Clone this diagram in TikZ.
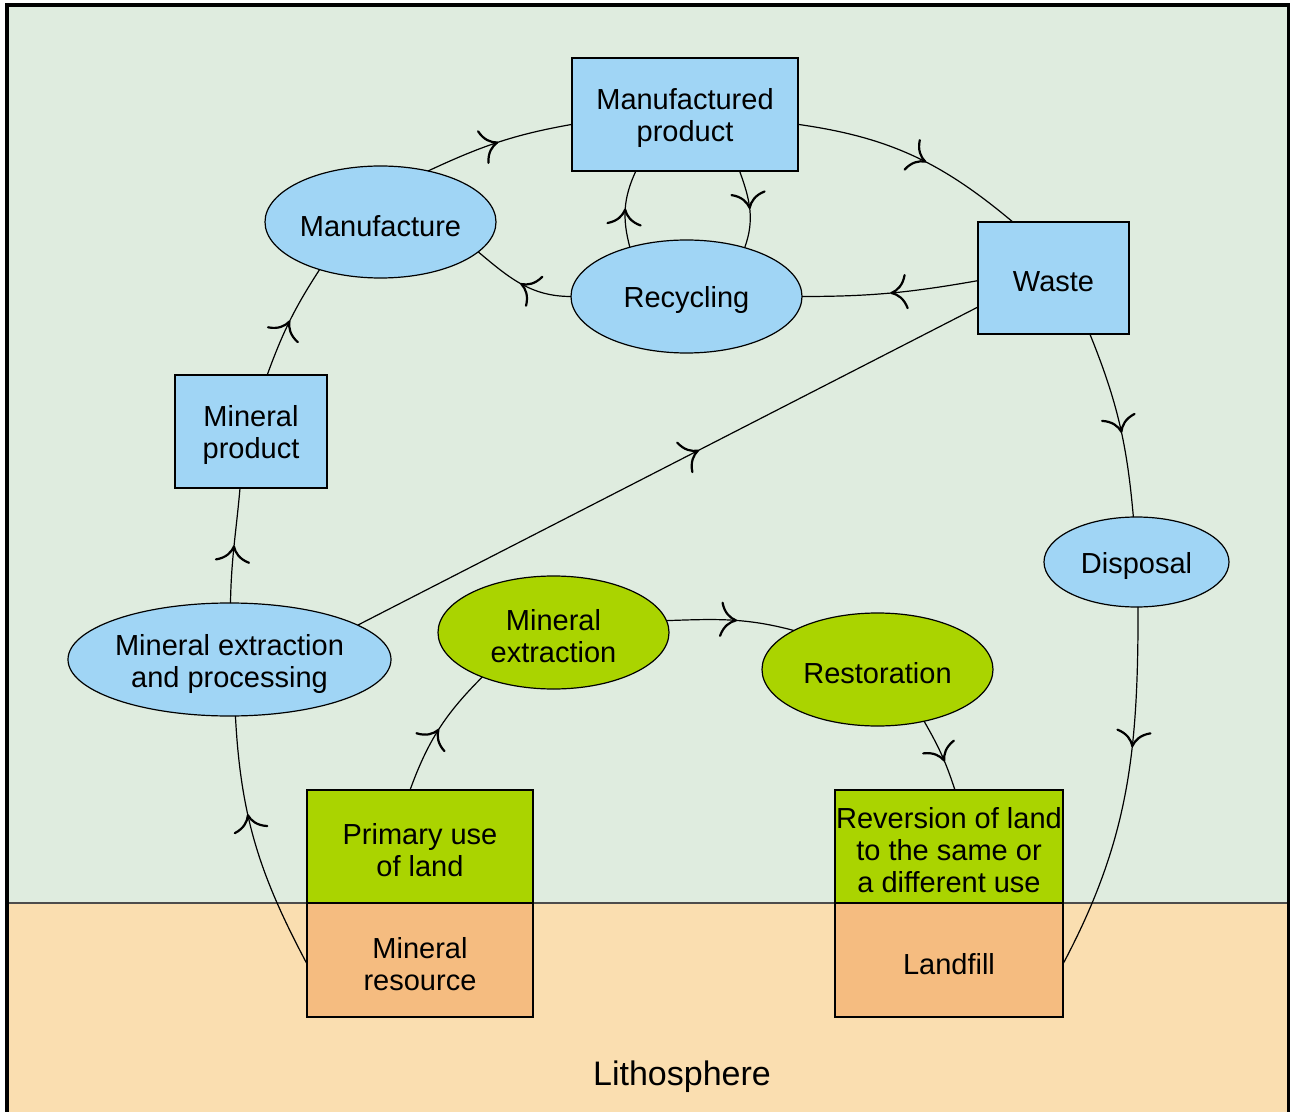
\documentclass[tikz,border=0pt]{standalone}
\usepackage{fontspec}
\setmainfont{Liberation Sans}
\usetikzlibrary{shapes.geometric,arrows.meta,decorations.markings}
\definecolor{bggreen}{HTML}{DFECDF}
\definecolor{bgtan}{HTML}{FADEB0}
\definecolor{skyb}{HTML}{A0D5F5}
\definecolor{leaf}{HTML}{AAD400}
\definecolor{ochre}{HTML}{F5BC80}
\tikzset{
  lbl/.style={align=center,font=\fontsize{14.5}{16}\selectfont,inner sep=0pt,yshift=-2pt},
  box/.style={draw=black,line width=0.6pt,inner sep=0pt,outer sep=0pt},
  rbox/.style={box,rectangle,fill=skyb},
  gbox/.style={box,rectangle,fill=leaf},
  obox/.style={box,rectangle,fill=ochre},
  bell/.style={box,ellipse,fill=skyb},
  gell/.style={box,ellipse,fill=leaf},
  flow/.style={draw,line width=0.6pt,postaction={decorate},
    decoration={markings,mark=at position #1 with {\arrow[line width=1.1pt]{Computer Modern Rightarrow[scale=2.1]}}}},
  flow/.default=0.5
}
\begin{document}
\begin{tikzpicture}[x=0.5pt,y=-0.5pt]
\useasboundingbox (0,0) rectangle (1290,1112);
% backgrounds
\fill[bggreen] (7,5) rectangle (1289,903);
\fill[bgtan] (7,903) rectangle (1289,1112);
\draw[line width=0.6pt,black!70] (7,903) -- (1289,903);
\draw[line width=1.6pt] (7,1112) -- (7,5) -- (1289,5) -- (1289,1112);
\node[font=\fontsize{17}{20}\selectfont,inner sep=0pt] (litho) at (682,1077) {Lithosphere};

% nodes
\node[rbox,minimum width=113pt,minimum height=56.5pt,label={[lbl]center:{Manufactured\\product}}] (mp) at (685,114.5) {};
\node[bell,minimum width=115.5pt,minimum height=56pt,label={[lbl]center:Manufacture}] (mf) at (380.5,222) {};
\node[bell,minimum width=115.5pt,minimum height=56.5pt,label={[lbl]center:Recycling}] (rc) at (686.5,296.5) {};
\node[rbox,minimum width=75.5pt,minimum height=56pt,label={[lbl]center:Waste}] (ws) at (1053.5,278) {};
\node[rbox,minimum width=76pt,minimum height=56.5pt,label={[lbl]center:{Mineral\\product}}] (mpr) at (251,431.5) {};
\node[bell,minimum width=92.5pt,minimum height=45pt,label={[lbl]center:Disposal}] (dp) at (1136.5,562) {};
\node[bell,minimum width=161.5pt,minimum height=56.5pt,label={[lbl]center:{Mineral extraction\\and processing}}] (mep) at (229.5,659.5) {};
\node[gell,minimum width=115.5pt,minimum height=56.5pt,label={[lbl]center:{Mineral\\extraction}}] (me) at (553.5,632.5) {};
\node[gell,minimum width=115.5pt,minimum height=56.5pt,label={[lbl]center:Restoration}] (rs) at (877.5,669.5) {};
\node[gbox,minimum width=113pt,minimum height=56.5pt,label={[lbl]center:{Primary use\\of land}}] (pu) at (420,846.5) {};
\node[obox,minimum width=113pt,minimum height=57pt,label={[lbl]center:{Mineral\\resource}}] (mr) at (420,960) {};
\node[gbox,minimum width=114pt,minimum height=56.5pt,label={[lbl]center:{Reversion of land\\to the same or\\a different use}}] (rv) at (949,846.5) {};
\node[obox,minimum width=114pt,minimum height=57pt,label={[lbl]center:Landfill}] (lf) at (949,960) {};

% connectors
\draw[flow] (mf.47) to[out=25,in=190] (mp.185);
\draw[flow=0.56] (mp.355) to[out=-8,in=140] (ws.126);
\draw[flow] (ws.182) to[out=190,in=0] (rc.east);
\draw[flow] (rc.west) to[out=180,in=320] (mf.343);
\draw[flow] (rc.139) to[out=105,in=245] (mp.229);
\draw[flow] (mp.314) to[out=290,in=70] (rc.40);
\draw[flow=0.55] (ws.303) to[out=-68,in=95] (dp.94);
\draw[flow=0.38] (dp.272) to[out=270,in=62] (lf.358);
\draw[flow=0.55] (mep.15) -- (ws.201);
\draw[flow] (mep.89) to[out=89,in=265] (mpr.259);
\draw[flow] (mpr.74) to[out=70,in=237] (mf.218);
\draw[flow=0.62] (mr.182.5) to[out=118,in=273] (mep.276);
\draw[flow] (pu.100) to[out=70,in=225] (me.212);
\draw[flow=0.55] (me.6) to[out=2,in=165] (rs.155);
\draw[flow=0.6] (rs.312) to[out=-60,in=108] (rv.84);
\end{tikzpicture}
\end{document}
